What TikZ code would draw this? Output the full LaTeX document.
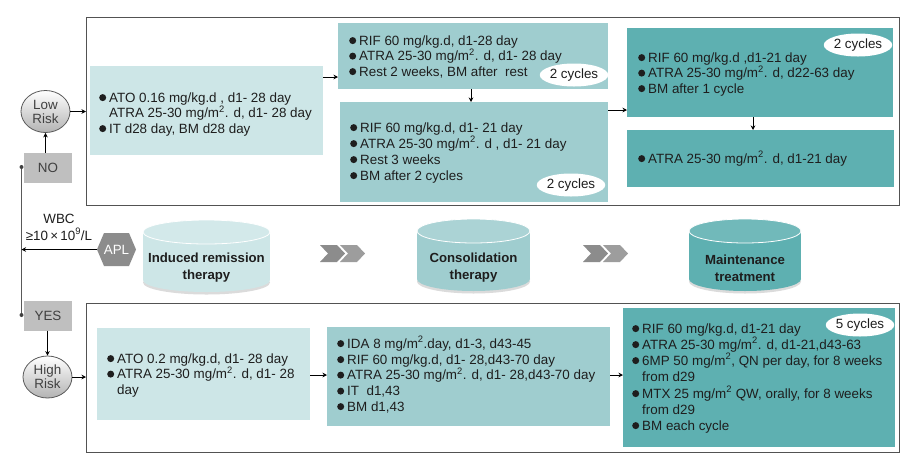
\documentclass[tikz,border=0pt]{standalone}
\usepackage{fontspec}
\setmainfont{Liberation Sans}
\usetikzlibrary{shapes.geometric,arrows.meta,calc}
\definecolor{lightc}{RGB}{205,230,231}
\definecolor{midc}{RGB}{159,205,207}
\definecolor{darkc}{RGB}{94,176,177}
\definecolor{greybox}{RGB}{191,191,191}
\definecolor{aplgrey}{RGB}{140,140,140}
\definecolor{txtc}{RGB}{30,30,30}
\newcommand\bl[1]{\fill[txtc] ([shift={(-6.3pt,4.4pt)}]#1.base west) circle (3.5pt);}
\newcommand\mycyl[7]{%
 \fill[black!14] (#2,#4-12+2.5) ellipse[x radius=#5, y radius=12];
 \fill[#6] (#2-#5,#3+12) rectangle (#2+#5,#4-12);
 \fill[#6] (#2,#4-12) ellipse[x radius=#5,y radius=12];
 \filldraw[fill=#6!88!white, draw=white, line width=0.8pt] (#2,#3+12) ellipse[x radius=#5,y radius=12];
 \node[cyltext] (#1) at (#2,268) {#7};
}
\begin{document}
\begin{tikzpicture}[x=1pt,y=-1pt,
  txt/.style={anchor=base west, inner sep=0pt, font=\fontsize{13.4}{15.7}\selectfont, text=txtc},
  cyltext/.style={align=center, inner sep=0pt, font=\fontsize{13.2}{17}\selectfont\bfseries, text=txtc},
  outer/.style={draw=black!68, line width=1.1pt, fill=white, anchor=north west, inner sep=0pt},
  panel/.style={anchor=north west, inner sep=0pt},
  cyc/.style={ellipse, fill=white, inner sep=0pt, minimum width=62pt, minimum height=23pt, font=\fontsize{13.4}{15}\selectfont, text=txtc},
  risk/.style={ellipse, draw=black!65, line width=0.8pt, top color=white, bottom color=black!30, inner sep=0pt, minimum width=49pt, minimum height=42pt, align=center, font=\fontsize{13.4}{15}\selectfont, text=black!75},
  yn/.style={fill=greybox, inner sep=0pt, minimum width=48pt, minimum height=30pt, font=\fontsize{13.4}{15}\selectfont, text=black!75},
  arr/.style={draw=black, line width=0.7pt, -{Stealth[length=4.5pt,width=4.5pt]}},
  dot/.style={circle, fill=black!75, inner sep=0pt, minimum size=4pt}
]
\useasboundingbox (0,0) rectangle (914,459);
\fill[white] (0,0) rectangle (914,459);

% outer frames
\node[outer, minimum width=813pt, minimum height=188pt] (top) at (86,17) {};
\node[outer, minimum width=813pt, minimum height=149pt] (bot) at (86,303) {};

% top panels
\node[panel, fill=lightc, minimum width=233pt, minimum height=89pt] (a1) at (90,66) {};
\node[panel, fill=midc, minimum width=270pt, minimum height=66pt] (b1) at (338,23) {};
\node[panel, fill=midc, minimum width=268pt, minimum height=100pt] (b2) at (340,102) {};
\node[panel, fill=darkc, minimum width=266pt, minimum height=89pt] (c1) at (627,28) {};
\node[panel, fill=darkc, minimum width=267pt, minimum height=57pt] (c2) at (627,130) {};

% bottom panels
\node[panel, fill=lightc, minimum width=213pt, minimum height=92pt] (a2) at (97,328) {};
\node[panel, fill=midc, minimum width=283pt, minimum height=99pt] (b3) at (327,327) {};
\node[panel, fill=darkc, minimum width=272pt, minimum height=139pt] (c3) at (623,308) {};

% texts top-left
\node[txt] (t1) at (109,102) {ATO 0.16 mg/kg.d , d1- 28 day}; \bl{t1}
\node[txt] (t2) at (109,117.5) {ATRA 25-30 mg/m\textsuperscript{2}. d, d1- 28 day};
\node[txt] (t3) at (109,133) {IT d28 day, BM d28 day}; \bl{t3}

% middle box 1
\node[txt] (u1) at (359,45) {RIF 60 mg/kg.d, d1-28 day}; \bl{u1}
\node[txt] (u2) at (359,60.5) {ATRA 25-30 mg/m\textsuperscript{2}. d, d1- 28 day}; \bl{u2}
\node[txt] (u3) at (359,76) {Rest 2 weeks, BM after\ \ rest}; \bl{u3}
\node[cyc] (k1) at (574,75) {2 cycles};

% middle box 2
\node[txt] (v1) at (360,132) {RIF 60 mg/kg.d, d1- 21 day}; \bl{v1}
\node[txt] (v2) at (360,148) {ATRA 25-30 mg/m\textsuperscript{2}. d , d1- 21 day}; \bl{v2}
\node[txt] (v3) at (360,164) {Rest 3 weeks}; \bl{v3}
\node[txt] (v4) at (360,180) {BM after 2 cycles}; \bl{v4}
\node[cyc] (k2) at (571,185) {2 cycles};

% right box 1
\node[txt] (w1) at (648,62) {RIF 60 mg/kg.d ,d1-21 day}; \bl{w1}
\node[txt] (w2) at (648,77.5) {ATRA 25-30 mg/m\textsuperscript{2}. d, d22-63 day}; \bl{w2}
\node[txt] (w3) at (648,93) {BM after 1 cycle}; \bl{w3}
\node[cyc] (k3) at (858,45) {2 cycles};

% right box 2
\node[txt] (x1) at (648,163) {ATRA 25-30 mg/m\textsuperscript{2}. d, d1-21 day}; \bl{x1}

% bottom-left
\node[txt] (y1) at (117,363) {ATO 0.2 mg/kg.d, d1- 28 day}; \bl{y1}
\node[txt] (y2) at (117,378.5) {ATRA 25-30 mg/m\textsuperscript{2}. d, d1- 28}; \bl{y2}
\node[txt] (y3) at (117,394) {day};

% bottom-middle
\node[txt] (z1) at (347,348) {IDA 8 mg/m\textsuperscript{2}.day, d1-3, d43-45}; \bl{z1}
\node[txt] (z2) at (347,364) {RIF 60 mg/kg.d, d1- 28,d43-70 day}; \bl{z2}
\node[txt] (z3) at (347,379.5) {ATRA 25-30 mg/m\textsuperscript{2}. d, d1- 28,d43-70 day}; \bl{z3}
\node[txt] (z4) at (347,395.5) {IT\ \ d1,43}; \bl{z4}
\node[txt] (z5) at (347,411) {BM d1,43}; \bl{z5}

% bottom-right
\node[txt] (r1) at (642,333) {RIF 60 mg/kg.d, d1-21 day}; \bl{r1}
\node[txt] (r2) at (642,349) {ATRA 25-30 mg/m\textsuperscript{2}. d, d1-21,d43-63}; \bl{r2}
\node[txt] (r3) at (642,365) {6MP 50 mg/m\textsuperscript{2}, QN per day, for 8 weeks}; \bl{r3}
\node[txt] (r4) at (642,381) {from d29};
\node[txt] (r5) at (642,398) {MTX 25 mg/m\textsuperscript{2} QW, orally, for 8 weeks}; \bl{r5}
\node[txt] (r6) at (642,414) {from d29};
\node[txt] (r7) at (642,430) {BM each cycle}; \bl{r7}
\node[cyc] (k4) at (860,325) {5 cycles};

% panel arrows
\draw[arr] (a1.east |- 0,77) -- (b1.west |- 0,77);
\draw[arr] (b1.south -| 471,0) -- (b2.north -| 471,0);
\draw[arr] (b2.east |- 0,110) -- (c1.west |- 0,110);
\draw[arr] (c1.south -| 753,0) -- (c2.north -| 753,0);
\draw[arr] (a2.east |- 0,375) -- (b3.west |- 0,375);
\draw[arr] (b3.east |- 0,375) -- (c3.west |- 0,375);

% left decision part
\node[risk] (lr) at (45.5,111.5) {Low\\[-1pt]Risk};
\node[risk] (hr) at (47.5,377) {High\\[-1pt]Risk};
\node[yn] (no) at (48,168) {NO};
\node[yn] (yes) at (48,315.5) {YES};
\draw[arr] (no.north -| lr.south) -- (lr.south);
\draw[arr] (yes.south -| hr.north) -- (hr.north);
\draw[arr] (lr.east) -- (top.west |- lr.east);
\draw[arr] (hr.east) -- (bot.west |- hr.east);

\coordinate (d1) at (21.5,167);
\coordinate (d2) at (21.5,315);
\draw[black!65, line width=0.8pt] (d1) -- (d2);
\node[dot] (dd1) at (d1) {};
\node[dot] (dd2) at (d2) {};

% APL hexagon
\fill[aplgrey] (97,249.5) -- (104,233) -- (129,233) -- (136,249.5) -- (129,266) -- (104,266) -- cycle;
\node[inner sep=0pt, minimum width=39pt, minimum height=33pt, text=white, font=\fontsize{13.4}{15}\selectfont] (apl) at (116.5,249.5) {APL};
\draw[arr] (apl.west) -- (apl.west -| d1);
\node[align=center, inner sep=0pt, font=\fontsize{13.4}{17}\selectfont, text=txtc] (wbc) at (59,227) {WBC\\≥10\,×\,10\textsuperscript{9}/L};

% cylinders
\mycyl{cy1}{206.5}{220}{292}{63.5}{lightc}{Induced remission\\therapy}
\mycyl{cy2}{473.5}{219}{291}{56.5}{midc}{Consolidation\\therapy}
\mycyl{cy3}{745}{219}{291}{56}{darkc}{Maintenance\\treatment}

% chevrons
\fill[aplgrey] (320,245) -- (337,245) -- (345,253.5) -- (337,262) -- (320,262) -- (328,253.5) -- cycle;
\fill[aplgrey!85!white] (340,245) -- (357,245) -- (365,253.5) -- (357,262) -- (340,262) -- (348,253.5) -- cycle;
\fill[aplgrey] (583,245) -- (600,245) -- (608,253.5) -- (600,262) -- (583,262) -- (591,253.5) -- cycle;
\fill[aplgrey!85!white] (603,245) -- (620,245) -- (628,253.5) -- (620,262) -- (603,262) -- (611,253.5) -- cycle;
\end{tikzpicture}
\end{document}
